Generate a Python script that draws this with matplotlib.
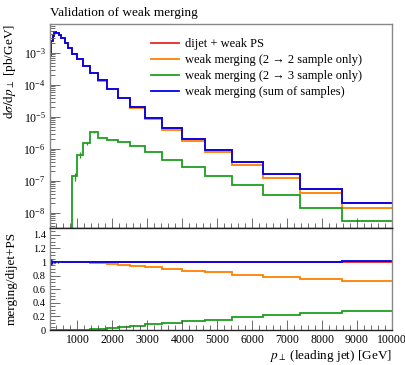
import numpy as np
import matplotlib
matplotlib.use("Agg")
import matplotlib.pyplot as plt
from matplotlib.ticker import MultipleLocator, FuncFormatter, LogLocator, NullFormatter

plt.rcParams['font.family'] = ['Liberation Serif', 'DejaVu Serif']
plt.rcParams['mathtext.fontset'] = 'stix'

# bin edges of leading jet pT [GeV]
edges = [215, 251, 293, 341, 398, 464, 541, 631, 736, 858, 1000, 1166, 1359,
         1585, 1848, 2154, 2512, 2929, 3415, 3981, 4642, 5412, 6310, 7356,
         8577, 10000]

# dsigma/dpT [pb/GeV]
dijet_ps = [8.9e-4, 2.4e-3, 3.47e-3, 4.37e-3, 4.27e-3, 3.72e-3, 2.88e-3, 2.09e-3,
            1.41e-3, 9.5e-4, 6.3e-4, 4.0e-4, 2.4e-4, 1.38e-4, 7.6e-5, 4.0e-5,
            2.04e-5, 9.3e-6, 4.4e-6, 2.1e-6, 9.5e-7, 3.9e-7, 1.6e-7, 5.6e-8, 2.0e-8]
merge_22 = [8.9e-4, 2.4e-3, 3.47e-3, 4.37e-3, 4.27e-3, 3.72e-3, 2.88e-3, 2.09e-3,
            1.41e-3, 9.5e-4, 6.29e-4, 3.98e-4, 2.38e-4, 1.36e-4, 7.4e-5, 3.84e-5,
            1.92e-5, 8.56e-6, 3.94e-6, 1.83e-6, 8.1e-7, 3.16e-7, 1.24e-7, 4.18e-8, 1.44e-8]
merge_23 = [0, 0, 0, 0, 0, 0, 0, 0, 0, 1.4e-7, 6.6e-7, 1.5e-6, 3.3e-6, 2.2e-6,
            1.95e-6, 1.66e-6, 1.2e-6, 8.1e-7, 4.6e-7, 2.75e-7, 1.45e-7, 7.4e-8,
            3.6e-8, 1.4e-8, 5.6e-9]
merge_sum = [8.9e-4, 2.4e-3, 3.47e-3, 4.37e-3, 4.27e-3, 3.72e-3, 2.88e-3, 2.09e-3,
             1.41e-3, 9.5e-4, 6.3e-4, 4.0e-4, 2.4e-4, 1.38e-4, 7.6e-5, 4.0e-5,
             2.04e-5, 9.3e-6, 4.4e-6, 2.1e-6, 9.5e-7, 3.9e-7, 1.6e-7, 5.6e-8, 2.02e-8]

# relative stat. errors (only where visible)
err_23 = [0, 0, 0, 0, 0, 0, 0, 0, 0, 0.3, 0.2, 0.1, 0.06, 0.03, 0.02, 0.02,
          0.02, 0.02, 0.02, 0.02, 0.02, 0.02, 0.02, 0.02, 0.02]
err_sum = [0.05, 0.03, 0.02, 0.012, 0.008, 0.005, 0.004, 0.003, 0.002, 0.002,
           0, 0, 0, 0, 0, 0, 0, 0, 0, 0, 0, 0, 0, 0, 0]

labels = ["dijet + weak PS",
          "weak merging (2 \u2192 2 sample only)",
          "weak merging (2 \u2192 3 sample only)",
          "weak merging (sum of samples)"]
colors = ["#e8262a", "#ff8000", "#1f9e1f", "#0000ee"]

edges = np.array(edges)
centers = 0.5 * (edges[1:] + edges[:-1])
ref = np.array(dijet_ps)
series = [ref, np.array(merge_22), np.array(merge_23), np.array(merge_sum)]

fig = plt.figure(figsize=(4.05, 3.65), dpi=100)
ax = fig.add_axes([50/405, 1-228/365, 342/405, 204/365])
rx = fig.add_axes([50/405, 1-330/365, 342/405, 102/365], sharex=ax)

for y, c, lab in zip(series, colors, labels):
    ax.stairs(y, edges, baseline=None, color=c, lw=1.3, label=lab)
    rx.stairs(y / ref, edges, baseline=None, color=c, lw=1.3)

# error crosses
e23 = np.array(err_23)
m = (e23 > 0) & (np.array(merge_23) > 0) & (centers < 1600)
ax.errorbar(centers[m], np.array(merge_23)[m], yerr=(np.array(merge_23) * e23)[m],
            fmt='none', ecolor=colors[2], elinewidth=0.9)
esum = np.array(err_sum)
m = esum > 0
rx.errorbar(centers[m], (series[3] / ref)[m], yerr=esum[m], fmt='none',
            ecolor=colors[3], elinewidth=1.0)

ax.set_yscale('log')
ax.set_xlim(edges[0], edges[-1])
ax.set_ylim(3.4e-9, 8e-3)
rx.set_ylim(0, 1.5)

ax.yaxis.set_major_locator(LogLocator(base=10, numticks=20))
ax.yaxis.set_minor_locator(LogLocator(base=10, subs=np.arange(2, 10), numticks=20))
ax.yaxis.set_minor_formatter(NullFormatter())
ax.xaxis.set_major_locator(MultipleLocator(1000))
ax.xaxis.set_minor_locator(MultipleLocator(200))
plt.setp(ax.get_xticklabels(), visible=False)

rx.yaxis.set_major_locator(MultipleLocator(0.2))
rx.yaxis.set_minor_locator(MultipleLocator(0.05))
rx.yaxis.set_major_formatter(FuncFormatter(lambda v, p: "%g" % round(v, 2)))

for a in (ax, rx):
    a.tick_params(which='both', direction='in', top=False, right=False,
                  labelsize=8.5, color='#555555', pad=3)
    a.tick_params(which='major', length=7, width=0.6)
    a.tick_params(which='minor', length=3.5, width=0.6)
    for s in a.spines.values():
        s.set_color('#888888')
        s.set_linewidth(1.0)
rx.tick_params(axis='y', labelsize=7.5)
ax.spines['bottom'].set_color('#222222')
rx.spines['top'].set_color('#222222')
rx.spines['bottom'].set_color('#222222')

ax.set_title("Validation of weak merging", loc='left', fontsize=9.5, pad=6)
ax.set_ylabel(r"$\mathrm{d}\sigma/\mathrm{d}p_\perp$ [pb/GeV]", fontsize=9.5,
              loc='top')
ax.yaxis.set_label_coords(-0.093, 1.0)
rx.set_ylabel("merging/dijet+PS", fontsize=9.5, loc='top')
rx.yaxis.set_label_coords(-0.093, 0.96)
rx.set_xlabel(r"$p_\perp$ (leading jet) [GeV]", fontsize=9.5, loc='right', labelpad=1)

ax.legend(loc='upper left', bbox_to_anchor=(101/342, 1-14/204), frameon=False,
          fontsize=9, handlelength=2.2, handletextpad=0.55, labelspacing=0.33,
          borderaxespad=0, borderpad=0)

fig.savefig("out.png", dpi=100)
